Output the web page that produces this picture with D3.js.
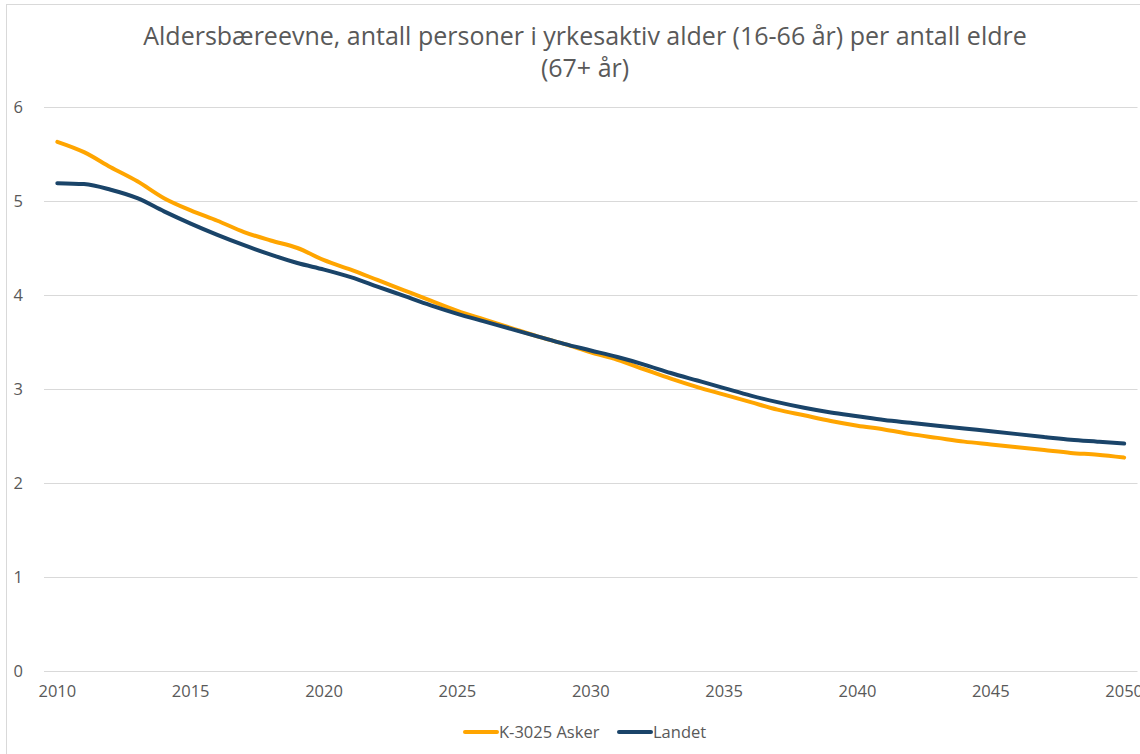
<!DOCTYPE html>
<html>
<head>
<meta charset="utf-8">
<script src="https://cdn.jsdelivr.net/npm/d3@7"></script>
<style>
  body { margin: 0; background: #fff; }
  svg { display: block; font-family: "Open Sans", sans-serif; }
</style>
</head>
<body>
<svg id="chart" width="1140" height="754"></svg>
<script>
// data
var years = d3.range(2010, 2051);
var asker = [5.63, 5.52, 5.36, 5.21, 5.03, 4.90, 4.79, 4.67, 4.58, 4.50,
             4.37, 4.27, 4.16, 4.05, 3.94, 3.83, 3.74, 3.65, 3.56, 3.48,
             3.39, 3.31, 3.21, 3.11, 3.02, 2.94, 2.86, 2.78, 2.72, 2.66,
             2.61, 2.57, 2.52, 2.48, 2.44, 2.41, 2.38, 2.35, 2.32, 2.30, 2.27];
var landet = [5.19, 5.18, 5.12, 5.03, 4.89, 4.76, 4.64, 4.53, 4.43, 4.34,
              4.27, 4.19, 4.09, 3.99, 3.89, 3.80, 3.72, 3.64, 3.56, 3.48,
              3.41, 3.34, 3.26, 3.17, 3.09, 3.01, 2.93, 2.86, 2.80, 2.75,
              2.71, 2.67, 2.64, 2.61, 2.58, 2.55, 2.52, 2.49, 2.46, 2.44, 2.42];
var yTicks = [0, 1, 2, 3, 4, 5, 6];
var xTicks = [2010, 2015, 2020, 2025, 2030, 2035, 2040, 2045, 2050];
var seriesNames = ["K-3025 Asker", "Landet"];
var seriesColors = ["#FFA500", "#1A4469"];

var svg = d3.select("#chart");
var grey = "#595959";

// chart border
svg.append("rect")
    .attr("x", 6.5).attr("y", 4.5)
    .attr("width", 1200).attr("height", 800)
    .attr("fill", "none").attr("stroke", "#D9D9D9");

// title
var title = svg.append("text")
    .attr("text-anchor", "middle")
    .attr("fill", grey)
    .style("font-size", "25px");
title.append("tspan").attr("x", 585).attr("y", 45)
    .text("Aldersbæreevne, antall personer i yrkesaktiv alder (16-66 år) per antall eldre");
title.append("tspan").attr("x", 585).attr("y", 77)
    .text("(67+ år)");

var plotLeft = 44, plotRight = 1137.5, plotTop = 107, plotBottom = 671;

var x = d3.scaleBand().domain(years).range([plotLeft, plotRight]);
var y = d3.scaleLinear().domain([0, 6]).range([plotBottom, plotTop]);

// gridlines
svg.append("g")
  .selectAll("line")
  .data(yTicks)
  .join("line")
    .attr("x1", plotLeft).attr("x2", plotRight)
    .attr("y1", function(d) { return Math.round(y(d)) + 0.5; })
    .attr("y2", function(d) { return Math.round(y(d)) + 0.5; })
    .attr("stroke", "#D9D9D9").attr("stroke-width", 1);

// y axis labels
var yAxis = svg.append("g")
    .attr("transform", "translate(" + plotLeft + ",0)")
    .call(d3.axisLeft(y).tickValues(yTicks).tickFormat(d3.format("d"))
      .tickSize(0).tickPadding(21));
yAxis.select(".domain").remove();
yAxis.selectAll("text").attr("fill", grey).style("font-size", "16.5px")
    .style("font-family", "Open Sans");

// x axis labels
var xAxis = svg.append("g")
    .attr("transform", "translate(0," + plotBottom + ")")
    .call(d3.axisBottom(x).tickValues(xTicks).tickSize(0).tickPadding(14));
xAxis.select(".domain").remove();
xAxis.selectAll("text").attr("fill", grey).style("font-size", "16.5px")
    .style("font-family", "Open Sans");

// lines
var line = d3.line()
    .x(function(d, i) { return x(years[i]) + x.bandwidth() / 2; })
    .y(function(d) { return y(d); })
    .curve(d3.curveMonotoneX);

[asker, landet].forEach(function(s, i) {
  svg.append("path")
      .datum(s)
      .attr("d", line)
      .attr("fill", "none")
      .attr("stroke", seriesColors[i])
      .attr("stroke-width", 4)
      .attr("stroke-linecap", "round")
      .attr("stroke-linejoin", "round");
});

// legend
var legendPos = [465, 619];
var legend = svg.append("g");
seriesNames.forEach(function(name, i) {
  var g = legend.append("g").attr("transform", "translate(" + legendPos[i] + ",732)");
  g.append("line")
      .attr("x1", 0).attr("x2", 32).attr("y1", 0).attr("y2", 0)
      .attr("stroke", seriesColors[i]).attr("stroke-width", 4)
      .attr("stroke-linecap", "round");
  g.append("text")
      .attr("x", 34).attr("y", 6)
      .attr("fill", grey)
      .style("font-size", "16.5px")
      .text(name);
});
</script>
</body>
</html>
